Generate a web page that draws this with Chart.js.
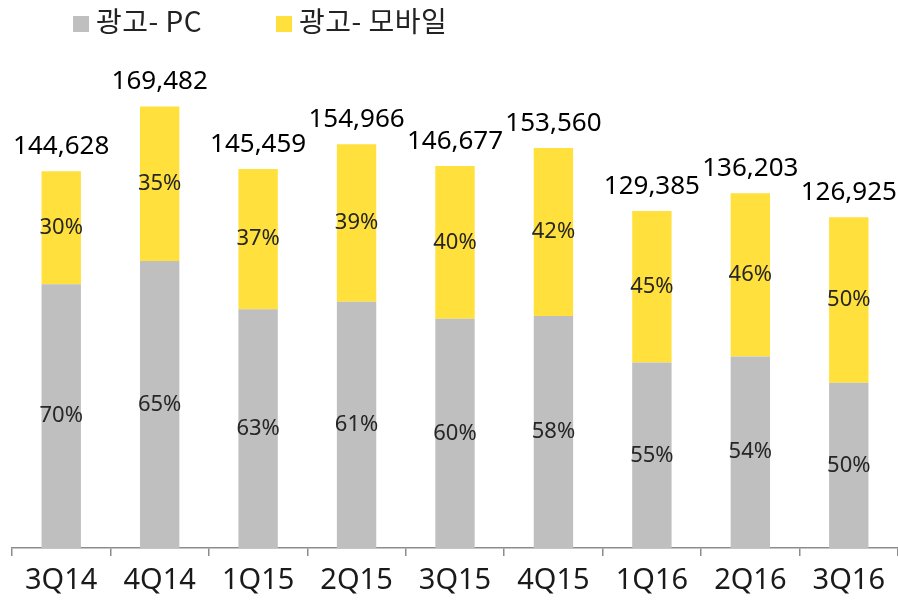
<!DOCTYPE html>
<html>
<head>
<meta charset="utf-8">
<script src="https://cdn.jsdelivr.net/npm/chart.js@4"></script>
<style>
  html, body { margin: 0; padding: 0; background: #fff; }
  #wrap { position: relative; width: 898px; height: 604px; }
  #legend { position: absolute; top: 0; left: 0; height: 40px; font-family: "Noto Sans CJK KR", "Noto Sans", sans-serif; font-size: 28px; color: #222; }
  .item { position: absolute; top: 1px; white-space: nowrap; line-height: 38px; letter-spacing: 0.5px; }
  .box { display: inline-block; width: 16px; height: 16px; margin-right: 7px; vertical-align: 0px; }
</style>
</head>
<body>
<div id="wrap">
  <canvas id="c" width="898" height="604"></canvas>
  <div id="legend"></div>
</div>
<script>
// Quarterly ad revenue, split into PC and mobile shares
const quarters = ['3Q14', '4Q14', '1Q15', '2Q15', '3Q15', '4Q15', '1Q16', '2Q16', '3Q16'];
const totals = [144628, 169482, 145459, 154966, 146677, 153560, 129385, 136203, 126925];
const pcShare = [70, 65, 63, 61, 60, 58, 55, 54, 50];
const mobileShare = [30, 35, 37, 39, 40, 42, 45, 46, 50];
const seriesNames = ['광고- PC', '광고- 모바일'];
const seriesColors = ['#BFBFBF', '#FFE03C'];

// Segment values built from the stated totals and shares
const pcValues = totals.map((t, i) => t * pcShare[i] / 100);
const mobileValues = totals.map((t, i) => t * mobileShare[i] / 100);

// Legend
const legend = document.getElementById('legend');
const legendX = [73, 276];
seriesNames.forEach((name, i) => {
  const it = document.createElement('div');
  it.className = 'item';
  it.style.left = legendX[i] + 'px';
  it.innerHTML = '<span class="box" style="background:' + seriesColors[i] + '"></span>' + name;
  legend.appendChild(it);
});

const FONT = '"Noto Sans", "Noto Sans CJK KR", sans-serif';

// Draws share labels inside segments and totals above each bar
const labelPlugin = {
  id: 'barLabels',
  afterDatasetsDraw(chart) {
    const ctx = chart.ctx;
    ctx.save();
    ctx.textAlign = 'center';
    const shares = [pcShare, mobileShare];
    chart.data.datasets.forEach((ds, di) => {
      const meta = chart.getDatasetMeta(di);
      meta.data.forEach((bar, i) => {
        const yMid = (bar.y + bar.base) / 2;
        ctx.font = '22px ' + FONT;
        ctx.fillStyle = '#262626';
        ctx.textBaseline = 'middle';
        ctx.fillText(shares[di][i] + '%', bar.x, yMid);
      });
    });
    const top = chart.getDatasetMeta(1);
    top.data.forEach((bar, i) => {
      ctx.font = '26px ' + FONT;
      ctx.fillStyle = '#000';
      ctx.textBaseline = 'alphabetic';
      ctx.fillText(totals[i].toLocaleString('en-US'), bar.x, bar.y - 17);
    });
    ctx.restore();
  }
};

new Chart(document.getElementById('c'), {
  type: 'bar',
  data: {
    labels: quarters,
    datasets: [
      { label: seriesNames[0], data: pcValues, backgroundColor: seriesColors[0] },
      { label: seriesNames[1], data: mobileValues, backgroundColor: seriesColors[1] }
    ]
  },
  options: {
    responsive: false,
    animation: false,
    devicePixelRatio: 1,
    layout: { padding: { left: 12, right: 0, top: 27, bottom: 0 } },
    datasets: { bar: { categoryPercentage: 1.0, barPercentage: 0.4 } },
    plugins: { legend: { display: false }, tooltip: { enabled: false } },
    scales: {
      x: {
        stacked: true,
        afterFit(scale) { scale.height = 56; },
        grid: { display: true, drawOnChartArea: false, drawTicks: true, tickLength: 8, color: '#8C8C8C', lineWidth: 1.5, offset: true },
        border: { display: true, color: '#8C8C8C', width: 1.5 },
        ticks: { color: '#1A1A1A', font: { family: FONT, size: 29 }, padding: 7, maxRotation: 0 }
      },
      y: {
        stacked: true,
        display: false,
        min: 0,
        max: 200000
      }
    }
  },
  plugins: [labelPlugin]
});
</script>
</body>
</html>
